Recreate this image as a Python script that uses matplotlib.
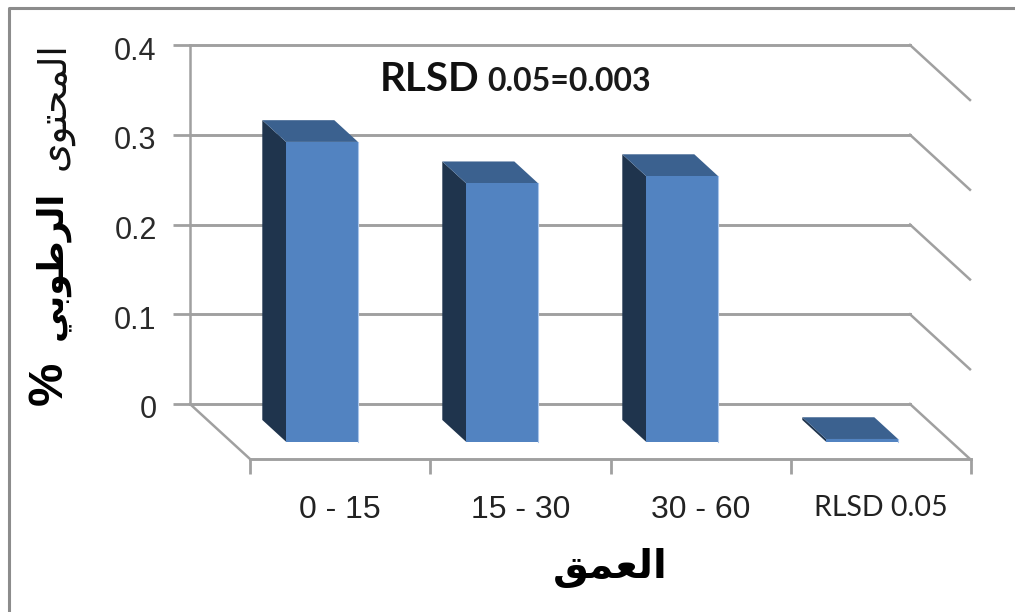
import matplotlib
matplotlib.use("Agg")
import matplotlib.pyplot as plt
from matplotlib.patches import Polygon
from matplotlib.transforms import ScaledTranslation

# datos
categorias = ["0 - 15", "15 - 30", "30 - 60", "RLSD 0.05"]
valores = [0.334, 0.288, 0.296, 0.003]
ticks_y = [0, 0.1, 0.2, 0.3, 0.4]
etiquetas_y = ["0", "0.1", "0.2", "0.3", "0.4"]

# arabe ya en formas de presentacion y orden visual (matplotlib no hace shaping)
titulo_x = "\uFED6\uFEE4\uFECC\uFEDF\uFE8D"  # العمق
titulo_y_1 = "\uFEEF\uFEEE\uFE98\uFEA4\uFEE4\uFEDF\uFE8D"  # المحتوى
titulo_y_2 = "\uFEF2\uFE91\uFEEE\uFEC3\uFEAE\uFEDF\uFE8D"  # الرطوبي

W, H = 1015, 612
GRIS = "#a0a0a0"
FRENTE = "#5283c1"
BORDE = "#a9c5ea"
LADO = "#1f344d"
TAPA = "#3b618f"

# desplazamiento oblicuo de la profundidad 1, en unidades de datos
DX = 60 / 180
DY = -55 / 897.5
ANCHO = 0.4
D0, D1 = 0.29, 0.685


def caja(px0, py0, px1, py1):
    # pixeles de la imagen (origen arriba) a fraccion de figura
    return [px0 / W, 1 - py1 / H, (px1 - px0) / W, (py1 - py0) / H]


def proy(x, v, d):
    return x + DX * d, v + DY * d


fig = plt.figure(figsize=(W / 100, H / 100), dpi=100)
fig.patch.set_facecolor("white")

ax = fig.add_axes(caja(190, 45, 910, 404))
ax.set_xlim(0, 4)
ax.set_ylim(0, 0.4)
ax.patch.set_visible(False)
for s in ["top", "right", "bottom"]:
    ax.spines[s].set_visible(False)
ax.spines["left"].set_color(GRIS)
ax.spines["left"].set_linewidth(1.8)
ax.set_xticks([])
ax.set_yticks(ticks_y)
ax.set_yticklabels(etiquetas_y, family="Liberation Sans", fontsize=22, color="#2a2a2a")
ax.tick_params(axis="y", length=12, width=2, color=GRIS, pad=12)
ax.grid(axis="y", color=GRIS, linewidth=2.1, zorder=1)
ax.set_axisbelow(True)
# sin recorte, si no las lineas de 0 y 0.4 salen a media anchura
for g in ax.get_ygridlines():
    g.set_clip_on(False)
# las etiquetas quedan unos pixeles por debajo de su marca
for lab in ax.get_yticklabels():
    lab.set_transform(lab.get_transform() + ScaledTranslation(0, -3 / 100, fig.dpi_scale_trans))

# lineas oblicuas de las paredes y del suelo
for t in ticks_y:
    x1, y1 = proy(4, t, 1)
    ax.plot([4, x1], [t, y1], color=GRIS, lw=1.8, clip_on=False, zorder=1)
x1, y1 = proy(0, 0, 1)
ax.plot([0, x1], [0, y1], color=GRIS, lw=1.8, clip_on=False, zorder=1)

# barras 3D
for i, v in enumerate(valores):
    x0 = i + 0.5 - ANCHO / 2 + 0.005
    x1 = x0 + ANCHO
    lado = [proy(x0, 0, D0), proy(x0, 0, D1), proy(x0, v, D1), proy(x0, v, D0)]
    tapa = [proy(x0, v, D0), proy(x1, v, D0), proy(x1, v, D1), proy(x0, v, D1)]
    frente = [proy(x0, 0, D1), proy(x1, 0, D1), proy(x1, v, D1), proy(x0, v, D1)]
    ax.add_patch(Polygon(lado, fc=LADO, ec="none", clip_on=False, zorder=3))
    ax.add_patch(Polygon(tapa, fc=TAPA, ec="none", clip_on=False, zorder=3))
    ax.add_patch(Polygon(frente, fc=FRENTE, ec="none", clip_on=False, zorder=4))
    ax.plot([frente[1][0], frente[2][0]], [frente[1][1], frente[2][1]], color=BORDE, lw=0.8,
            clip_on=False, zorder=5)

# eje frontal con las categorias
ax2 = fig.add_axes(caja(250, 400, 971, 459))
ax2.set_xlim(0, 4)
ax2.patch.set_visible(False)
for s in ["top", "right", "left"]:
    ax2.spines[s].set_visible(False)
ax2.spines["bottom"].set_color(GRIS)
ax2.spines["bottom"].set_linewidth(2.1)
ax2.set_yticks([])
ax2.set_xticks(range(5))
ax2.set_xticklabels([])
ax2.tick_params(axis="x", which="major", length=11, width=2, color=GRIS)
ax2.set_xticks([i + 0.5 for i in range(4)], minor=True)
ax2.set_xticklabels(categorias, minor=True, family="Liberation Sans", fontsize=23, color="#222222")
ax2.tick_params(axis="x", which="minor", length=0, pad=26)
lab = ax2.get_xticklabels(minor=True)[3]
lab.set_family("Lato")
lab.set_fontsize(20.5)

# marco exterior: solo arriba e izquierda
fig.add_artist(plt.Line2D([9 / W, 9 / W, 1], [0, 1 - 8 / H, 1 - 8 / H], transform=fig.transFigure,
                          color="#8c8c8c", lw=2.2))

# textos
fig.text(380 / W, 1 - 91 / H, "RLSD", family="Lato", fontweight="bold", fontsize=29,
         va="baseline", ha="left", color="#111111")
fig.text(487 / W, 1 - 91 / H, "0.05=0.003", family="Lato", fontweight="bold", fontsize=23,
         va="baseline", ha="left", color="#1a1a1a")
fig.text(610 / W, 1 - 568 / H, titulo_x, family="DejaVu Sans", fontweight="bold", fontsize=29,
         va="center", ha="center", color="black")
fig.text(54 / W, 1 - 106 / H, titulo_y_1, family="DejaVu Sans", fontsize=27, rotation=90,
         va="center", ha="center", color="#111111")
fig.text(52 / W, 1 - 265 / H, titulo_y_2, family="DejaVu Sans", fontweight="bold", fontsize=25, rotation=90,
         va="center", ha="center", color="black")
fig.text(49 / W, 1 - 383 / H, "%", family="Liberation Sans", fontweight="bold", fontsize=35, rotation=90,
         va="center", ha="center", color="black")

fig.savefig("out.png", dpi=100)
